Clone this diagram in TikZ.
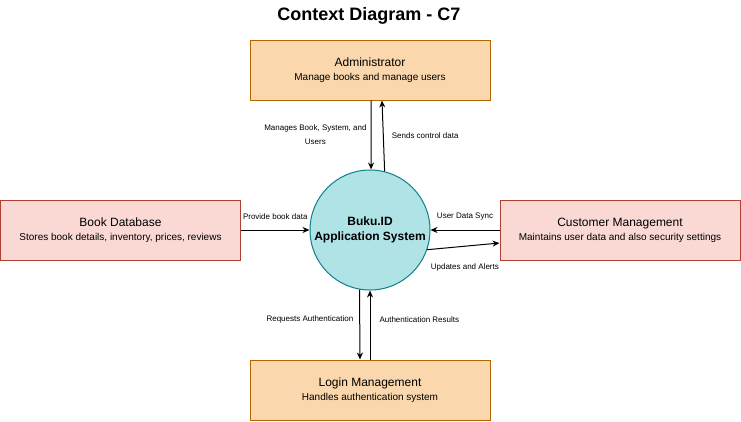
\documentclass[tikz,border=0pt]{standalone}
\usepackage{fontspec}
\setmainfont{Liberation Sans}
\usetikzlibrary{arrows.meta}
\definecolor{entfill}{HTML}{FAD7AC}
\definecolor{entline}{HTML}{B46504}
\definecolor{extfill}{HTML}{FAD9D5}
\definecolor{extline}{HTML}{AE4132}
\definecolor{procfill}{HTML}{B0E3E6}
\definecolor{procline}{HTML}{0E8088}
\newcommand{\enttitle}[1]{{\fontsize{12}{14}\selectfont #1}}
\tikzset{
  ent/.style={draw=entline, fill=entfill, line width=1pt, minimum width=240pt, minimum height=60pt,
    inner sep=0pt, align=center, font=\fontsize{10}{14}\selectfont},
  ext/.style={ent, draw=extline, fill=extfill},
  proc/.style={circle, draw=procline, fill=procfill, line width=1pt, minimum size=120pt, inner sep=0pt,
    align=center, font=\bfseries\fontsize{12}{15}\selectfont},
  lbl/.style={font=\fontsize{8}{14}\selectfont, inner sep=1pt, align=center},
}
\begin{document}
\begin{tikzpicture}[x=1pt, y=-1pt, >={Stealth[length=7pt,width=6pt]}, line width=1pt]
    \useasboundingbox (0,0) rectangle (741,421);
    \node[font=\bfseries\fontsize{18}{20}\selectfont] (title) at (369,16) {Context Diagram - C7};
    \node[ent] (admin) at (370,70) {\enttitle{Administrator}\\Manage books and manage users};
    \node[ext] (bookdb) at (120.5,230) {\enttitle{Book Database}\\Stores book details, inventory, prices, reviews};
    \node[ext] (cust) at (620,230) {\enttitle{Customer Management}\\Maintains user data and also security settings};
    \node[ent] (login) at (370,390) {\enttitle{Login Management}\\Handles authentication system};
    \node[proc] (sys) at (370,230) {Buku.ID\\Application System};
    \draw[->] ([xshift=1pt]admin.south) to node[lbl, left, xshift=-3pt]{Manages Book, System, and\\Users} (sys.89);
    \draw[->] (sys.76) to node[lbl, right, xshift=7pt]{Sends control data} ([xshift=12pt]admin.south);
    \draw[->] (bookdb.east) to node[lbl, yshift=13pt]{Provide book data} (sys.west);
    \draw[->] (cust.west) to node[lbl, yshift=13pt]{User Data Sync} (sys.east);
    \draw[->] (sys.-19) to node[lbl, xshift=1.5pt, yshift=-21pt]{Updates and Alerts} ([yshift=-13pt]cust.west);
    \draw[->] (sys.260) to node[lbl, left, xshift=-5pt, yshift=5pt]{Requests Authentication} ([xshift=-10pt]login.north);
    \draw[->] (login.north) to node[lbl, right, xshift=8pt, yshift=5pt]{Authentication Results} (sys.south);
\end{tikzpicture}
\end{document}
